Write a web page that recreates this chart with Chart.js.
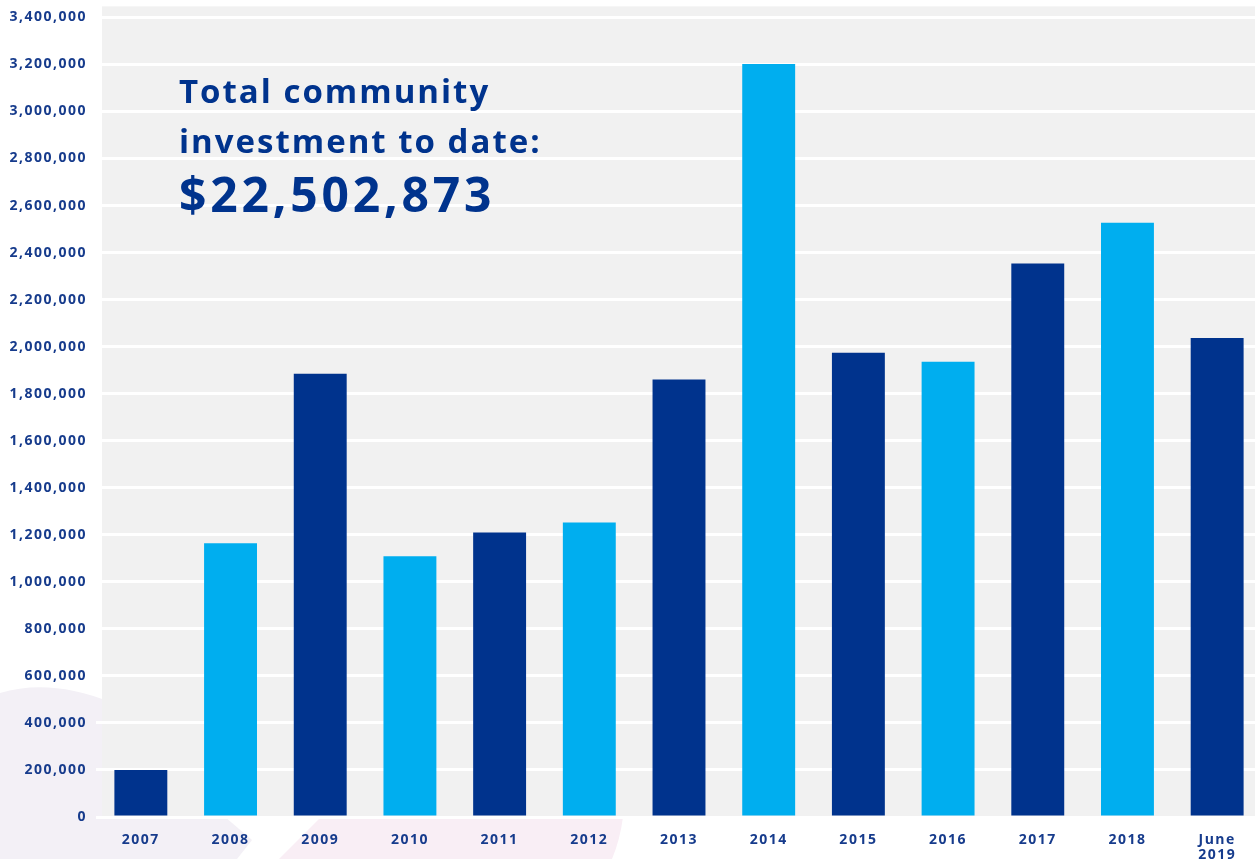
<!DOCTYPE html>
<html>
<head>
<meta charset="utf-8">
<script src="https://cdn.jsdelivr.net/npm/chart.js@4.4.1/dist/chart.umd.min.js"></script>
<style>
  html, body { margin: 0; padding: 0; background: #fff; overflow: hidden; }
  #wrap { position: relative; width: 1255px; height: 859px; overflow: hidden; }
  #deco { position: absolute; left: 0; top: 0; z-index: 0; }
  #box { position: absolute; left: 0; top: 0; width: 1262px; height: 859px; z-index: 1; }
  #headline {
    position: absolute; left: 179px; top: 66px; z-index: 2;
    font-family: "Open Sans", sans-serif; font-weight: 700; color: #00338d;
  }
  #headline .l1 { font-size: 33px; line-height: 50px; letter-spacing: 2px; }
  #headline .l2 { font-size: 48px; line-height: 56px; letter-spacing: 3.8px; }
</style>
</head>
<body>
<div id="wrap">
  <svg id="deco" width="1255" height="859">
    <path d="M0,693 Q50,678 110,702 L110,817 L225,817 L252,840 L237,859 L0,859 Z" fill="#f3f0f6"/>
    <path d="M340,790 L321,817 L279,859 L612,859 Q620,840 623,817 L626,790 Z" fill="#f9eef5"/>
  </svg>
  <div id="box"><canvas id="chart"></canvas></div>
  <div id="headline">
    <div class="l1">Total community</div>
    <div class="l1">investment to date:</div>
    <div class="l2">$22,502,873</div>
  </div>
</div>
<script>
const years = ["2007", "2008", "2009", "2010", "2011", "2012", "2013", "2014",
  "2015", "2016", "2017", "2018", ["June", "2019"]];
const investment = [200000, 1164000, 1885000, 1109000, 1210000, 1252000,
  1860000, 3202000, 1974000, 1936000, 2354000, 2527000, 2037000];
const yMax = 3400000;
const yStep = 200000;

const DARK = "#00338d";
const LIGHT = "#00aeef";
const TEXT = "#163b8c";
const FONT = "'Open Sans', sans-serif";

// letter spacing on the canvas (reset whenever the canvas resizes)
const spacing = {
  id: "spacing",
  beforeLayout(chart) { chart.ctx.letterSpacing = "1.5px"; },
  beforeDraw(chart) { chart.ctx.letterSpacing = "1.5px"; },
  beforeDatasetsDraw(chart) { chart.ctx.letterSpacing = "2px"; },
};

// grey panel behind the bars
const panel = {
  id: "panel",
  beforeDraw(chart) {
    const { ctx, chartArea: a } = chart;
    ctx.save();
    ctx.fillStyle = "#f1f1f1";
    ctx.fillRect(a.left + 6, a.top - 11, a.right - a.left - 6, a.bottom - a.top + 11);
    ctx.restore();
  },
};

new Chart(document.getElementById("chart"), {
  type: "bar",
  data: {
    labels: years,
    datasets: [{
      data: investment,
      backgroundColor: (ctx) => (ctx.dataIndex % 2 ? LIGHT : DARK),
      categoryPercentage: 1,
      barPercentage: 0.59,
    }],
  },
  options: {
    responsive: true,
    maintainAspectRatio: false,
    animation: false,
    layout: { padding: { top: 12, right: 0, bottom: 0, left: 0 } },
    plugins: { legend: { display: false }, tooltip: { enabled: false } },
    scales: {
      x: {
        afterFit: (s) => { s.height = 42; },
        grid: { display: false, drawTicks: false },
        border: { display: false },
        ticks: {
          color: TEXT, padding: 15, maxRotation: 0, autoSkip: false,
          font: { family: FONT, size: 14, weight: "bold", lineHeight: 1.1 },
        },
      },
      y: {
        min: 0,
        max: yMax,
        afterFit: (s) => { s.width = 96; },
        grid: { color: "#ffffff", lineWidth: 3, drawTicks: false },
        border: { display: false },
        ticks: {
          stepSize: yStep, color: TEXT, padding: 9,
          font: { family: FONT, size: 14, weight: "bold" },
          callback: (v) => v.toLocaleString("en-US"),
        },
      },
    },
  },
  plugins: [spacing, panel],
});
</script>
</body>
</html>
